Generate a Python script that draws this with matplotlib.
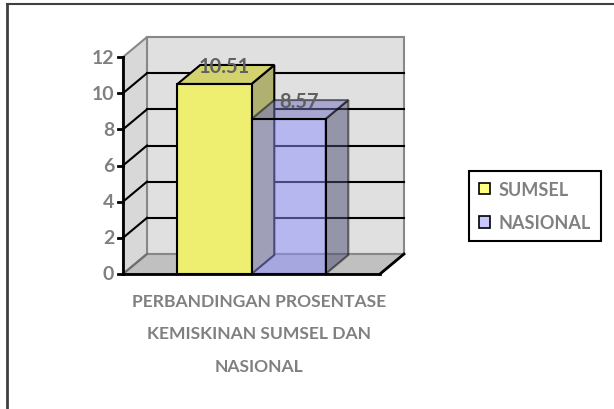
import matplotlib
matplotlib.use('Agg')
from matplotlib import pyplot as plt
from matplotlib.patches import Polygon, Rectangle
from matplotlib.lines import Line2D

plt.rcParams['font.family'] = ['Lato', 'DejaVu Sans']

# data
series = ['SUMSEL', 'NASIONAL']
values = [10.51, 8.57]
labels = ['10.51', '8.57']
yticks = [0, 2, 4, 6, 8, 10, 12]
title_lines = ['PERBANDINGAN PROSENTASE', 'KEMISKINAN SUMSEL DAN', 'NASIONAL']

# colours: front, top, side, alpha
front = ['#eeee70', '#9090ff']
top = ['#d2d26e', '#7070c0']
side = ['#b0b070', '#4c4c74']
alpha = [1.0, 0.5]

GREY = '#808080'
W, H = 614, 410
fig = plt.figure(figsize=(W / 100, H / 100), dpi=100)
ax = fig.add_axes([0, 0, 1, 1])
ax.axis('off')
# x: 0 = front value axis, 1 = right front corner of floor
x0_px, x1_px, y0_px, ppu = 123, 380, 275, 18.08
sx = x1_px - x0_px
ax.set_xlim(-x0_px / sx, (W - x0_px) / sx)
ax.set_ylim(-(H - y0_px) / ppu, y0_px / ppu)

dx, dy = 24 / sx, 20 / ppu   # wall depth
bdx, bdy = dx * 0.95, dy * 0.95  # bar depth
ymax = yticks[-1]

# walls and floor
ax.add_patch(Polygon([(dx, dy), (1 + dx, dy), (1 + dx, ymax + dy), (dx, ymax + dy)],
                     facecolor='#e0e0e0', edgecolor='#888888', lw=1.5, zorder=1))
ax.add_patch(Polygon([(0, 0), (dx, dy), (dx, ymax + dy), (0, ymax)],
                     facecolor='#d8d8d8', edgecolor='#888888', lw=1.5, zorder=1))
ax.add_patch(Polygon([(0, 0), (1, 0), (1 + dx, dy), (dx, dy)],
                     facecolor='#c0c0c0', edgecolor='#888888', lw=1.5, zorder=1))

for v in yticks[1:-1]:
    ax.plot([dx, 1 + dx], [v + dy, v + dy], color='black', lw=1.5, zorder=2)
    ax.plot([0, dx], [v, v + dy], color='black', lw=1.5, zorder=2)
ax.plot([0, dx], [0, dy], color='#707070', lw=1.5, zorder=2)

# axis lines
ax.plot([0, 0], [0, ymax], color='black', lw=2, zorder=2)
ax.plot([0, 1], [0, 0], color='black', lw=2, zorder=2)
ax.plot([1, 1 + dx], [0, dy], color='black', lw=2, zorder=2)
for v in yticks:
    ax.plot([-0.018, 0], [v, v], color='black', lw=2, zorder=2)
    ax.text(-0.035, v, str(v), ha='right', va='center', color=GREY,
            fontsize=14, fontweight='bold')

# bars
bw = 0.288
start = 0.5 - bw * len(values) / 2
for i, v in enumerate(values):
    l = start + i * bw
    r = l + bw
    z = 3 + i
    a = alpha[i]
    ax.add_patch(Polygon([(r, 0), (r + bdx, bdy), (r + bdx, v + bdy), (r, v)],
                         facecolor=side[i], edgecolor='black', lw=1.5, alpha=a, zorder=z))
    ax.add_patch(Polygon([(l, v), (r, v), (r + bdx, v + bdy), (l + bdx, v + bdy)],
                         facecolor=top[i], edgecolor='black', lw=1.5, alpha=a, zorder=z))
    ax.add_patch(Rectangle((l, 0), bw, v, facecolor=front[i], edgecolor='none',
                           alpha=a, zorder=z))
    ax.add_patch(Rectangle((l, 0), bw, v, facecolor='none', edgecolor='black',
                           lw=1.5, zorder=z))
    ax.text((l + r) / 2 + 0.04, v + 1.0, labels[i], ha='center', va='center',
            color='#606060', fontsize=14.5, fontweight='bold', zorder=10)

# category title
for k, line in enumerate(title_lines):
    fig.text(259 / W, 1 - (302 + 32.5 * k) / H, line, ha='center', va='center',
             color=GREY, fontsize=12.6, fontweight='bold')

# legend
leg_cols = ['#ffff80', '#c8c8ff']
handles = [Rectangle((0, 0), 1, 1, facecolor=c, edgecolor='black', lw=1.2) for c in leg_cols]
leg = fig.legend(handles, series, loc='upper left',
                 bbox_to_anchor=(469 / W, 1 - 172 / H), bbox_transform=fig.transFigure,
                 frameon=True, fancybox=False, edgecolor='black', framealpha=1,
                 handlelength=0.6, handleheight=0.6, handletextpad=0.5,
                 labelspacing=0.9, borderpad=0.55, borderaxespad=0,
                 prop={'weight': 'bold', 'size': 13})
leg.get_frame().set_linewidth(1.5)
for t in leg.get_texts():
    t.set_color(GREY)

# chart border
fig.add_artist(Line2D([7 / W, 7 / W], [0, 1 - 5 / H], color='#404040', lw=2))
fig.add_artist(Line2D([7 / W, 1], [1 - 5 / H, 1 - 5 / H], color='#404040', lw=1.5))

fig.savefig('out.png', dpi=100)
